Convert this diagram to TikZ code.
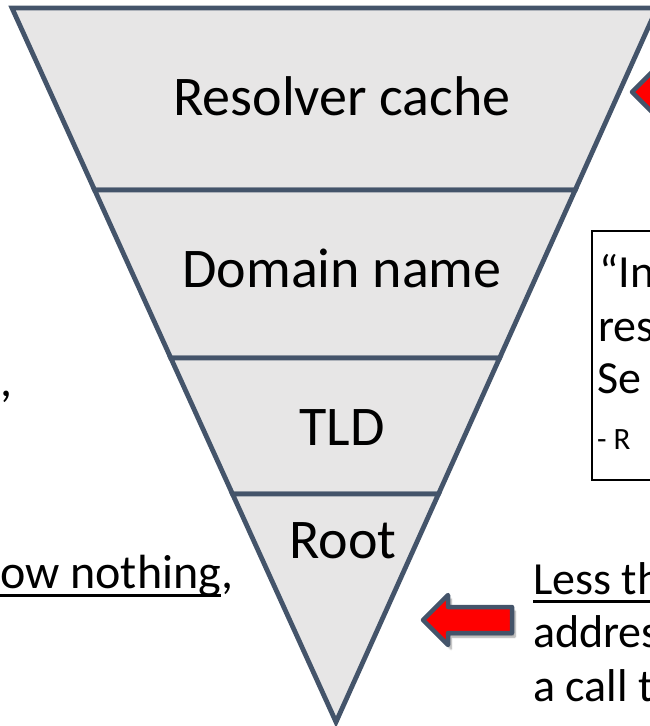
\documentclass[tikz,border=0pt]{standalone}
\usepackage{fontspec}
\setmainfont{Carlito}
\usetikzlibrary{shadows.blur}
\definecolor{edge}{HTML}{44546A}
\definecolor{band}{HTML}{E7E6E6}
\begin{document}
\begin{tikzpicture}[x=1pt,y=-1pt,
 bandshape/.style={fill=band,draw=edge,line width=4.8pt,line join=miter},
 bandlabel/.style={font=\fontsize{56}{67}\selectfont,inner sep=0pt,anchor=base},
 sidetext/.style={font=\fontsize{46}{55}\selectfont,inner sep=0pt,anchor=base west},
 lefttext/.style={font=\fontsize{48}{58}\selectfont,inner sep=0pt,anchor=base west},
 smalltext/.style={font=\fontsize{31}{37}\selectfont,inner sep=0pt,anchor=base west},
 uline/.style={line width=3pt,black},
 redarrow/.style={fill=red,draw=edge,line width=4.5pt,line join=round,
   blur shadow={shadow xshift=3pt,shadow yshift=-4pt,shadow opacity=40,shadow blur steps=6}}]
\useasboundingbox (0,0) rectangle (650,726);
\clip (0,0) rectangle (650,726);
% funnel bands
\draw[bandshape] (12,8) -- (657,8) -- (575.2,190) -- (94.6,190) -- cycle;
\draw[bandshape] (94.6,190) -- (575.2,190) -- (499.6,358) -- (170.8,358) -- cycle;
\draw[bandshape] (170.8,358) -- (499.6,358) -- (438.5,494) -- (232.5,494) -- cycle;
\draw[bandshape] (232.5,494) -- (438.5,494) -- (336,722) -- cycle;
\node[bandlabel] (rc) at (342,115) {Resolver cache};
\node[bandlabel] (dn) at (342,287) {Domain name};
\node[bandlabel] (tld) at (342,445) {TLD};
\node[bandlabel] (root) at (343,558) {Root};
% quote box
\draw[black,line width=1.3pt] (592,231) rectangle (720,480);
\node[sidetext] (q1) at (599,287) {“In};
\node[sidetext] (q2) at (598,341) {res};
\node[sidetext] (q3) at (597,393) {Se};
\node[smalltext] (q4) at (597,449) {- R};
% arrows
\draw[redarrow] (632,92) -- (657,67) -- (657,79) -- (721,79) -- (721,105) -- (657,105) -- (657,117) -- cycle;
\draw[redarrow] (423,620) -- (448,595) -- (448,607) -- (512,607) -- (512,633) -- (448,633) -- (448,645) -- cycle;
% lower right text
\node[sidetext] (l1) at (533,594) {Less th};
\draw[uline] ([yshift=-7pt]l1.base west) -- ([yshift=-7pt]l1.base east);
\node[sidetext] (l2) at (533,647) {addres};
\node[sidetext] (l3) at (533,701) {a call t};
% left text
\node[lefttext,anchor=base east] (c1) at (13,396) {,};
\node[lefttext] (k1) at (0,588) {ow nothing};
\draw[uline] ([yshift=-7pt]k1.base west) -- ([yshift=-7pt]k1.base east);
\node[lefttext] (k2) at (k1.base east) {,};
\end{tikzpicture}
\end{document}
